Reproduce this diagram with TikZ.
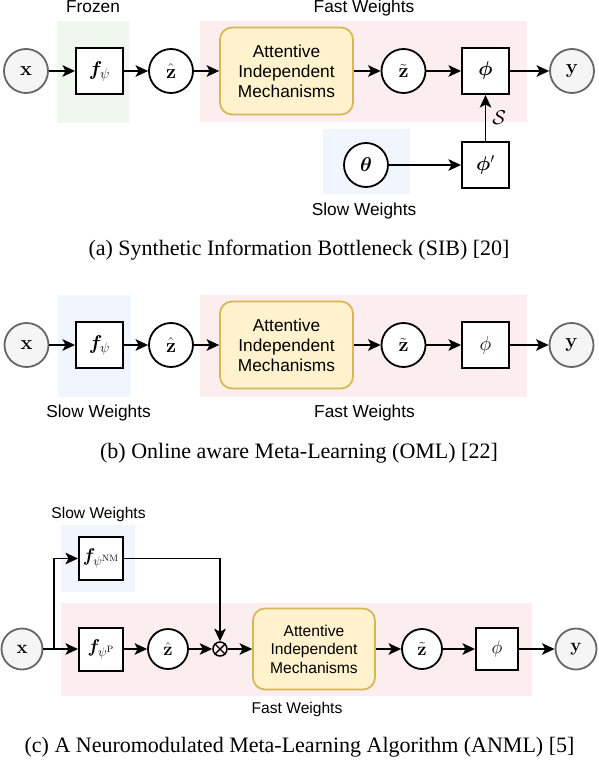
\RequirePackage{fix-cm}
\documentclass[tikz,border=0pt]{standalone}
\usepackage{amsmath,bm}
\usepackage[no-math]{fontspec}
\setmainfont{Liberation Sans}
\newfontfamily\capfont{Liberation Serif}
\usetikzlibrary{arrows.meta}
\definecolor{frozenfill}{HTML}{EFF7EF}
\definecolor{fastfill}{HTML}{FCEEEE}
\definecolor{slowfill}{HTML}{F1F5FD}
\definecolor{iofill}{HTML}{F5F5F5}
\definecolor{iodraw}{HTML}{666666}
\definecolor{aimfill}{HTML}{FFF2CC}
\definecolor{aimdraw}{HTML}{D6B656}
\newcommand{\fa}{\fontsize{17.3}{20}\selectfont}
\newcommand{\fc}{\fontsize{15.6}{18.5}\selectfont}
\newcommand{\ma}{\fontsize{20}{24}\selectfont}
\newcommand{\mc}{\fontsize{18.5}{22}\selectfont}
\tikzset{
  ln/.style={line width=1.9pt, -{Stealth[length=12.5pt,width=11.5pt,inset=3pt]}},
  lbl/.style={font=\fa, inner sep=0, anchor=base},
  lblc/.style={font=\fc, inner sep=0, anchor=base},
  io/.style={circle, draw=iodraw, fill=iofill, line width=1.8pt, minimum size=44pt, inner sep=0, font=\ma},
  var/.style={circle, draw, fill=white, line width=1.8pt, minimum size=44pt, inner sep=0, font=\ma},
  fbox/.style={draw, fill=white, line width=2pt, minimum width=47pt, minimum height=46pt, inner sep=0, font=\ma},
  aim/.style={draw=aimdraw, fill=aimfill, rounded corners=12pt, line width=1.7pt, minimum width=133pt, minimum height=87pt, align=center, inner sep=0, font=\fa},
  ioc/.style={io, minimum size=41pt, font=\mc},
  varc/.style={var, minimum size=40pt, font=\mc},
  fboxc/.style={fbox, minimum width=44pt, minimum height=43pt, font=\mc},
  aimc/.style={aim, minimum width=122pt, minimum height=81pt, font=\fc},
  captext/.style={font=\capfont\fontsize{22}{26}\selectfont, inner sep=0, anchor=base},
}
\begin{document}
\begin{tikzpicture}[x=1pt,y=-1pt]
\useasboundingbox (0,0) rectangle (598,762);
% ---------- panel (a)
\fill[frozenfill] (57,21) rectangle (129,123);
\fill[fastfill] (200,21) rectangle (527,122);
\fill[slowfill] (323,129) rectangle (410,194);
\node[lbl] (lfrozen) at (93,13) {Frozen};
\node[lbl] (lfasta) at (364,13) {Fast Weights};
\node[lbl] (lslowa) at (364,215) {Slow Weights};
\node[io] (xa) at (26,71) {$\mathbf{x}$};
\node[fbox] (fa) at (99.5,71) {$\boldsymbol{f}_{\psi}$};
\node[var] (zha) at (171,71) {$\hat{\mathbf{z}}$};
\node[aim] (aima) at (286.5,71) {Attentive\\Independent\\Mechanisms};
\node[var] (zta) at (403.5,71) {$\tilde{\mathbf{z}}$};
\node[fbox] (phia) at (485.5,71) {$\boldsymbol{\phi}$};
\node[io] (ya) at (572,71) {$\mathbf{y}$};
\node[var] (tha) at (366,165) {$\boldsymbol{\theta}$};
\node[fbox] (phipa) at (485.5,165) {$\boldsymbol{\phi}'$};
\draw[ln] (xa) -- (fa);
\draw[ln] (fa) -- (zha);
\draw[ln] (zha) -- (aima);
\draw[ln] (aima) -- (zta);
\draw[ln] (zta) -- (phia);
\draw[ln] (phia) -- (ya);
\draw[ln] (tha) -- (phipa);
\draw[ln] (phipa) -- node[right=6pt, font=\ma, inner sep=0] (slab) {$\mathcal{S}$} (phia);
\node[captext] (capa) at (299,255) {(a) Synthetic Information Bottleneck (SIB) [20]};
% ---------- panel (b)
\fill[slowfill] (58,295) rectangle (131,397);
\fill[fastfill] (200,295) rectangle (527,397);
\node[lbl] (lslowb) at (98.5,417) {Slow Weights};
\node[lbl] (lfastb) at (364.5,417) {Fast Weights};
\node[io] (xb) at (26.5,345) {$\mathbf{x}$};
\node[fbox] (fb) at (99.5,345) {$\boldsymbol{f}_{\psi}$};
\node[var] (zhb) at (171,345) {$\hat{\mathbf{z}}$};
\node[aim] (aimb) at (286.5,345) {Attentive\\Independent\\Mechanisms};
\node[var] (ztb) at (403.5,345) {$\tilde{\mathbf{z}}$};
\node[fbox] (phib) at (485.5,345) {$\phi$};
\node[io] (yb) at (571.5,345) {$\mathbf{y}$};
\draw[ln] (xb) -- (fb);
\draw[ln] (fb) -- (zhb);
\draw[ln] (zhb) -- (aimb);
\draw[ln] (aimb) -- (ztb);
\draw[ln] (ztb) -- (phib);
\draw[ln] (phib) -- (yb);
\node[captext] (capb) at (299,458) {(b) Online aware Meta-Learning (OML) [22]};
% ---------- panel (c)
\fill[slowfill] (61,525) rectangle (135,592);
\fill[fastfill] (61,603) rectangle (532,696);
\node[lblc] (lslowc) at (98.5,518) {Slow Weights};
\node[lblc] (lfastc) at (297,713) {Fast Weights};
\node[ioc] (xc) at (22,649) {$\mathbf{x}$};
\coordinate (jc) at (54,649);
\node[fboxc] (fnm) at (101,558.5) {$\boldsymbol{f}_{\psi^{\mathrm{NM}}}$};
\node[fboxc] (fp) at (101,649) {$\boldsymbol{f}_{\psi^{\mathrm{P}}}$};
\node[varc] (zhc) at (168,649) {$\hat{\mathbf{z}}$};
\node[circle, draw, line width=1.5pt, minimum size=14pt, inner sep=0] (ot) at (220,649) {};
\draw[line width=1.4pt] (ot.45) -- (ot.225) (ot.135) -- (ot.315);
\node[aimc] (aimc) at (314,649) {Attentive\\Independent\\Mechanisms};
\node[varc] (ztc) at (422,649) {$\tilde{\mathbf{z}}$};
\node[fboxc, minimum width=42pt, minimum height=42pt] (phic) at (497,649) {$\phi$};
\node[ioc] (yc) at (576,649) {$\mathbf{y}$};
\draw[ln] (xc) -- (fp);
\draw[ln] (jc) |- (fnm);
\draw[ln] (fnm) -| (ot);
\draw[ln] (fp) -- (zhc);
\draw[ln] (zhc) -- (ot);
\draw[ln] (ot) -- (aimc);
\draw[ln] (aimc) -- (ztc);
\draw[ln] (ztc) -- (phic);
\draw[ln] (phic) -- (yc);
\node[captext] (capc) at (299.5,752) {(c) A Neuromodulated Meta-Learning Algorithm (ANML) [5]};
\end{tikzpicture}
\end{document}
